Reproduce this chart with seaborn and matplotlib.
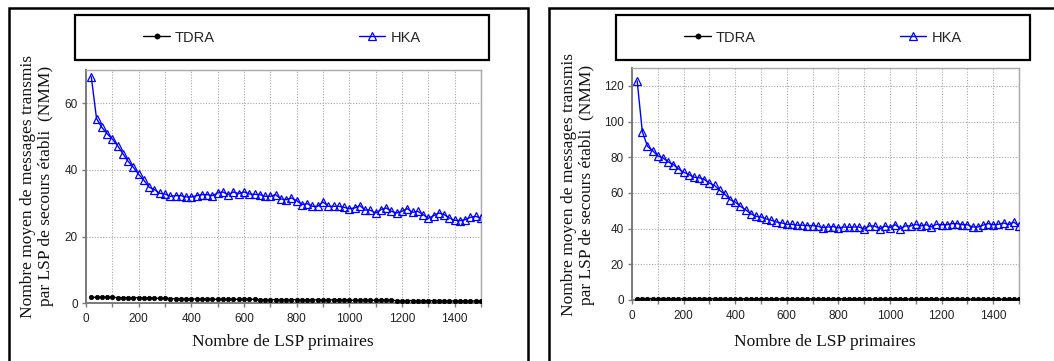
import numpy as np
import pandas as pd
import matplotlib
matplotlib.use("Agg")
import matplotlib.pyplot as plt
from matplotlib.patches import Rectangle
from matplotlib.lines import Line2D
from matplotlib.ticker import MultipleLocator
import seaborn as sns

# ---------------- data ----------------
nb_lsp = [20, 40, 60, 80, 100, 120, 140, 160, 180, 200, 220, 240, 260, 280, 300,
          320, 340, 360, 380, 400, 420, 440, 460, 480, 500, 520, 540, 560, 580, 600,
          620, 640, 660, 680, 700, 720, 740, 760, 780, 800, 820, 840, 860, 880, 900,
          920, 940, 960, 980, 1000, 1020, 1040, 1060, 1080, 1100, 1120, 1140, 1160, 1180, 1200,
          1220, 1240, 1260, 1280, 1300, 1320, 1340, 1360, 1380, 1400, 1420, 1440, 1460, 1480, 1500]

hka_left = [68.0, 55.4, 52.8, 50.9, 49.3, 47.3, 44.9, 42.6, 40.8, 38.7, 36.9, 34.8, 34.1, 33.0, 32.8,
            32.1, 32.3, 32.3, 31.9, 31.9, 32.3, 32.6, 32.6, 32.3, 33.1, 33.4, 32.6, 33.4, 32.9, 33.4,
            32.8, 32.7, 32.6, 32.1, 32.1, 32.6, 31.3, 31.1, 31.6, 30.8, 29.6, 29.9, 29.1, 29.1, 30.4,
            29.1, 29.1, 29.1, 28.8, 28.4, 28.6, 29.3, 28.0, 27.9, 27.1, 28.1, 28.6, 27.6, 27.1, 27.6,
            28.4, 27.3, 27.6, 26.6, 25.5, 26.3, 27.1, 26.6, 25.6, 24.9, 24.8, 25.1, 25.8, 26.1, 25.5]

tdra_left = [1.8, 1.8, 1.8, 1.8, 1.8, 1.7, 1.7, 1.7, 1.7, 1.7, 1.6, 1.6, 1.5, 1.5, 1.5,
             1.4, 1.4, 1.4, 1.3, 1.3, 1.3, 1.3, 1.3, 1.2, 1.2, 1.2, 1.2, 1.2, 1.2, 1.2,
             1.2, 1.2, 1.1, 1.1, 1.1, 1.1, 1.1, 1.1, 1.1, 1.1, 1.1, 1.0, 1.0, 1.0, 1.0,
             1.0, 1.0, 1.0, 1.0, 0.9, 0.9, 0.9, 0.9, 0.9, 0.9, 0.9, 0.9, 0.9, 0.8, 0.8,
             0.8, 0.8, 0.8, 0.8, 0.8, 0.8, 0.8, 0.8, 0.7, 0.7, 0.7, 0.7, 0.7, 0.7, 0.6]

hka_right = [122.8, 94.3, 86.1, 83.7, 80.7, 79.6, 77.4, 75.9, 73.5, 71.6, 70.3, 68.8, 68.5, 67.5, 65.5,
             64.2, 61.4, 59.2, 56.2, 54.9, 52.5, 50.6, 48.4, 46.9, 46.5, 45.4, 44.7, 43.7, 43.2, 42.4,
             42.4, 41.9, 41.9, 41.7, 41.7, 41.3, 40.6, 40.9, 41.1, 40.4, 40.9, 40.7, 40.9, 40.9, 39.8,
             41.5, 41.5, 39.8, 41.5, 40.6, 42.2, 40.0, 41.5, 41.5, 42.4, 41.5, 42.2, 40.9, 42.4, 42.2,
             42.2, 42.8, 42.8, 42.2, 42.2, 40.9, 40.9, 41.9, 42.8, 42.2, 42.4, 43.2, 42.2, 43.7, 41.3]

tdra_right = [0.8, 0.8, 0.8, 0.8, 0.8, 0.8, 0.8, 0.8, 0.8, 0.8, 0.8, 0.8, 0.8, 0.8, 0.8,
              0.8, 0.8, 0.8, 0.7, 0.7, 0.7, 0.7, 0.7, 0.7, 0.7, 0.7, 0.7, 0.7, 0.7, 0.7,
              0.7, 0.7, 0.7, 0.7, 0.7, 0.7, 0.7, 0.7, 0.7, 0.7, 0.7, 0.7, 0.7, 0.7, 0.6,
              0.6, 0.6, 0.6, 0.6, 0.6, 0.6, 0.6, 0.6, 0.6, 0.6, 0.6, 0.6, 0.6, 0.6, 0.5,
              0.5, 0.5, 0.5, 0.5, 0.5, 0.5, 0.5, 0.5, 0.5, 0.5, 0.5, 0.5, 0.5, 0.5, 0.5]

series_names = ["TDRA", "HKA"]
ylabel_text = "Nombre moyen de messages transmis\npar LSP de secours établi  (NMM)"
xlabel_text = "Nombre de LSP primaires"
ylims = [70, 130]

# ---------------- style ----------------
sns.set_theme(style="white")
plt.rcParams["font.family"] = ["Liberation Sans", "DejaVu Sans"]

W, H = 1054, 361
fig = plt.figure(figsize=(W / 100, H / 100), dpi=100)

def fx(px):
    return px / W

def fy(py):
    return 1 - py / H

panels = [
    dict(ax=(86, 481, 70, 303.3), hka=hka_left, tdra=tdra_left, ymax=ylims[0],
         box=(8.5, 528), leg=(75, 489), ylab_x=37, ylab_y=186, xlab_x=283),
    dict(ax=(632, 1019, 68, 300), hka=hka_right, tdra=tdra_right, ymax=ylims[1],
         box=(549, 1070), leg=(616, 1030), ylab_x=578, ylab_y=185, xlab_x=825),
]

for p in panels:
    l, r, t, b = p["ax"]
    ax = fig.add_axes([fx(l), fy(b), fx(r) - fx(l), fy(t) - fy(b)])
    df = pd.DataFrame({"x": nb_lsp, "TDRA": p["tdra"], "HKA": p["hka"]})

    sns.lineplot(data=df, x="x", y="TDRA", ax=ax, color="black", lw=1,
                 marker="o", markersize=3.2, markeredgecolor="black",
                 markerfacecolor="black", markeredgewidth=0.5, zorder=3)
    sns.lineplot(data=df, x="x", y="HKA", ax=ax, color="#0000ff", lw=1,
                 marker="^", markersize=5.5, markeredgecolor="#0000ff",
                 markerfacecolor="none", markeredgewidth=0.9, zorder=4)

    ax.set_xlim(0, 1500)
    ax.set_ylim(0, p["ymax"])
    ax.xaxis.set_major_locator(MultipleLocator(200))
    ax.xaxis.set_minor_locator(MultipleLocator(100))
    ax.yaxis.set_major_locator(MultipleLocator(20))
    ax.grid(True, which="both", axis="x", linestyle=(0, (1, 1.5)), color="#a8a8a8", lw=0.8)
    ax.grid(True, which="major", axis="y", linestyle=(0, (1, 1.5)), color="#a8a8a8", lw=0.8)
    ax.set_axisbelow(True)
    ax.set_xlabel("")
    ax.set_ylabel("")
    for s in ["left", "bottom"]:
        ax.spines[s].set_color("#7a7a7a")
        ax.spines[s].set_linewidth(1.4)
    for s in ["top", "right"]:
        ax.spines[s].set_color("#a8a8a8")
        ax.spines[s].set_linewidth(1.0)
    ax.tick_params(which="both", direction="out", length=3, width=1,
                   color="#7a7a7a", labelsize=8.5, pad=3, labelcolor="#222222",
                   bottom=True, left=True)
    ax.tick_params(axis="x", pad=4)
    leg = ax.get_legend()
    if leg is not None:
        leg.remove()

    # outer panel frame
    x0, x1 = p["box"]
    fig.add_artist(Rectangle((fx(x0), -0.2), fx(x1) - fx(x0), fy(8.5) + 0.2,
                             transform=fig.transFigure, fill=False,
                             edgecolor="black", lw=1.8, clip_on=False))
    # legend frame
    lx0, lx1 = p["leg"]
    fig.add_artist(Rectangle((fx(lx0), fy(60)), fx(lx1) - fx(lx0), fy(15) - fy(60),
                             transform=fig.transFigure, fill=False,
                             edgecolor="black", lw=1.6, clip_on=False))
    handles = [
        Line2D([], [], color="black", lw=1, marker="o", markersize=3.2,
               markerfacecolor="black", markeredgecolor="black"),
        Line2D([], [], color="#0000ff", lw=1, marker="^", markersize=5.5,
               markerfacecolor="none", markeredgecolor="#0000ff", markeredgewidth=0.9),
    ]
    fig.legend(handles, series_names, loc="center",
               bbox_to_anchor=(fx((lx0 + lx1) / 2), fy(37.5)),
               bbox_transform=fig.transFigure, ncol=2, frameon=False,
               handlelength=1.8, handletextpad=0.35, columnspacing=9.9,
               prop={"family": "Liberation Sans", "size": 10.5})

    fig.text(fx(p["ylab_x"]), fy(p["ylab_y"]), ylabel_text, rotation=90,
             ha="center", va="center", multialignment="center",
             family="Liberation Serif", fontsize=12.5, linespacing=1.2, color="#111111")
    fig.text(fx(p["xlab_x"]), fy(342), xlabel_text, ha="center", va="center",
             family="Liberation Serif", fontsize=12.5, color="#111111")

fig.savefig("out.png", dpi=100)
